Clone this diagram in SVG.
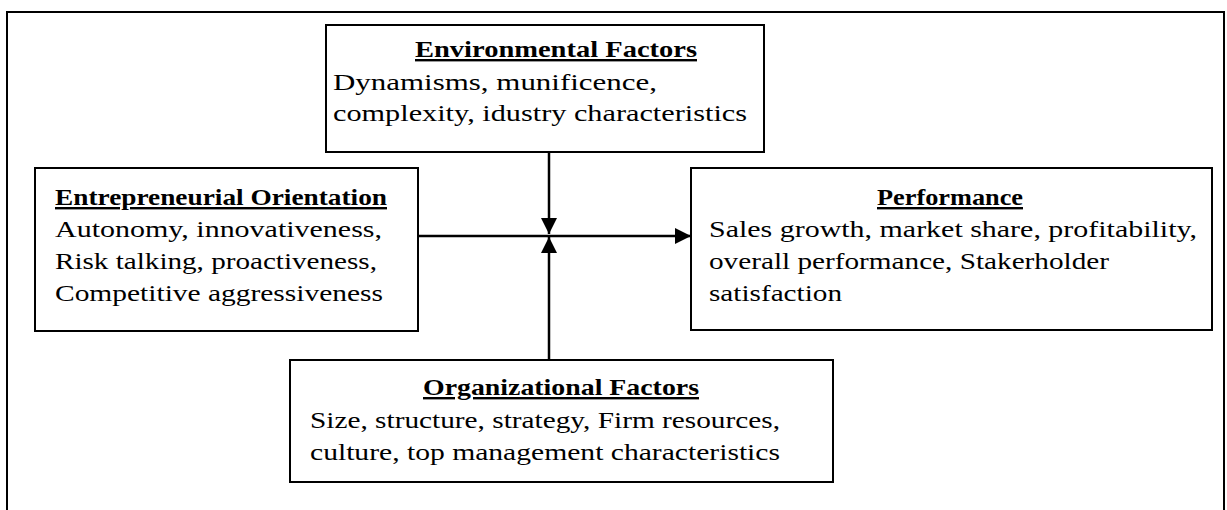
<svg xmlns="http://www.w3.org/2000/svg" width="1227" height="510" viewBox="0 0 1227 510">
  <defs>
    <marker id="arrow" viewBox="0 0 16 16" refX="16" refY="8" markerWidth="16" markerHeight="16" markerUnits="userSpaceOnUse" orient="auto">
      <path d="M0,0 L16,8 L0,16 Z" fill="#000"/>
    </marker>
    <style>
      .box { fill: #fff; stroke: #000; stroke-width: 2; }
      .frame { fill: none; stroke: #000; stroke-width: 2; }
      .title { font-family: "Liberation Serif", "DejaVu Serif", serif; font-size: 24px; font-weight: bold; text-decoration: underline; fill: #000; }
      .body { font-family: "Liberation Serif", "DejaVu Serif", serif; font-size: 24px; fill: #000; }
      .conn { stroke: #000; stroke-width: 2.5; fill: none; }
    </style>
  </defs>
  <rect width="1227" height="510" fill="#fff"/>
  <!-- outer frame, bottom edge runs past the canvas -->
  <rect class="frame" x="7" y="12" width="1217" height="510"/>

  <g id="connectors">
    <line class="conn" x1="418" y1="236" x2="691" y2="236" marker-end="url(#arrow)"/>
    <line class="conn" x1="549" y1="153" x2="549" y2="234" marker-end="url(#arrow)"/>
    <line class="conn" x1="549" y1="360" x2="549" y2="237" marker-end="url(#arrow)"/>
  </g>

  <g id="environmental-factors">
    <rect class="box" x="326" y="25" width="438" height="127"/>
    <text class="title" x="556" y="57" text-anchor="middle" textLength="282" lengthAdjust="spacingAndGlyphs">Environmental Factors</text>
    <text class="body" x="333" y="90" textLength="324" lengthAdjust="spacingAndGlyphs">Dynamisms, munificence,</text>
    <text class="body" x="333" y="121" textLength="414" lengthAdjust="spacingAndGlyphs">complexity, idustry characteristics</text>
  </g>

  <g id="entrepreneurial-orientation">
    <rect class="box" x="35" y="168" width="383" height="163"/>
    <text class="title" x="221" y="205" text-anchor="middle" textLength="332" lengthAdjust="spacingAndGlyphs">Entrepreneurial Orientation</text>
    <text class="body" x="55" y="237" textLength="327" lengthAdjust="spacingAndGlyphs">Autonomy, innovativeness,</text>
    <text class="body" x="55" y="269" textLength="322" lengthAdjust="spacingAndGlyphs">Risk talking, proactiveness,</text>
    <text class="body" x="55" y="301" textLength="328" lengthAdjust="spacingAndGlyphs">Competitive aggressiveness</text>
  </g>

  <g id="performance">
    <rect class="box" x="691" y="168" width="521" height="162"/>
    <text class="title" x="950" y="205" text-anchor="middle" textLength="146" lengthAdjust="spacingAndGlyphs">Performance</text>
    <text class="body" x="709" y="237" textLength="488" lengthAdjust="spacingAndGlyphs">Sales growth, market share, profitability,</text>
    <text class="body" x="709" y="269" textLength="400" lengthAdjust="spacingAndGlyphs">overall performance, Stakerholder</text>
    <text class="body" x="709" y="301" textLength="133" lengthAdjust="spacingAndGlyphs">satisfaction</text>
  </g>

  <g id="organizational-factors">
    <rect class="box" x="290" y="360" width="543" height="122"/>
    <text class="title" x="561" y="395" text-anchor="middle" textLength="276" lengthAdjust="spacingAndGlyphs">Organizational Factors</text>
    <text class="body" x="310" y="428" textLength="470" lengthAdjust="spacingAndGlyphs">Size, structure, strategy, Firm resources,</text>
    <text class="body" x="310" y="460" textLength="470" lengthAdjust="spacingAndGlyphs">culture, top management characteristics</text>
  </g>
</svg>
